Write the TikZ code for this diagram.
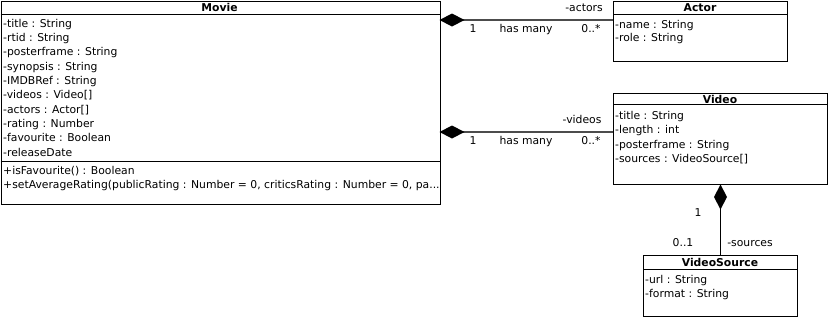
\documentclass[tikz,border=0pt]{standalone}
\usepackage{fontspec}
\setmainfont{DejaVu Sans}
\usetikzlibrary{arrows.meta}

\tikzset{
  classbox/.style={draw, line width=1pt, anchor=north west, inner sep=0pt},
  heading/.style={font=\fontsize{10.8}{12}\selectfont\bfseries, inner sep=0pt, text height=9pt, text depth=1pt},
  member/.style={anchor=west, font=\fontsize{10.8}{12}\selectfont, inner sep=0pt, text height=9pt, text depth=1pt},
  lbl/.style={font=\fontsize{10.8}{12}\selectfont, inner sep=0pt, text height=9pt, text depth=1pt},
  assoc/.style={line width=1.5pt, draw=black!70},
  owner/.style={{Diamond[length=25pt,width=13pt,fill=black,line width=0pt]}-},
}

\begin{document}
\begin{tikzpicture}[x=1pt,y=1pt]
  \useasboundingbox (0,0) rectangle (828,-317);

  % Movie
  \node[classbox, minimum width=439pt, minimum height=203pt] (movie) at (0.5,-1) {};
  \node[heading] (movietitle) at (219.5,-7) {Movie};
  \draw[line width=1pt] (0.5,-14.5) -- (439.5,-14.5);
  \draw[line width=1pt] (0.5,-161.5) -- (439.5,-161.5);
  \foreach \txt [count=\i] in {{-title : String}, {-rtid : String}, {-posterframe : String},
      {-synopsis : String}, {-IMDBRef : String}, {-videos : Video[]}, {-actors : Actor[]},
      {-rating : Number}, {-favourite : Boolean}, {-releaseDate}}
    \node[member] at (3,{-9-14.3*\i}) {\txt};
  \node[member] (fav) at (3,-170.7) {+isFavourite() : Boolean};
  \node[member] (avg) at (3,-184.5) {+setAverageRating(publicRating : Number = 0, criticsRating : Number = 0, pa...};

  % Actor
  \node[classbox, minimum width=174pt, minimum height=60pt] (actor) at (613,-1) {};
  \node[heading] (actortitle) at (700,-7) {Actor};
  \draw[line width=1pt] (613,-14) -- (787,-14);
  \node[member] at (615,-24) {-name : String};
  \node[member] at (615,-37.7) {-role : String};

  % Video
  \node[classbox, minimum width=214pt, minimum height=91pt] (video) at (613,-92.5) {};
  \node[heading] (videotitle) at (720,-99.3) {Video};
  \draw[line width=1pt] (613,-104.5) -- (827,-104.5);
  \node[member] at (615,-115) {-title : String};
  \node[member] at (615,-129) {-length : int};
  \node[member] at (615,-144) {-posterframe : String};
  \node[member] at (615,-158.3) {-sources : VideoSource[]};

  % VideoSource
  \node[classbox, minimum width=154pt, minimum height=61pt] (source) at (643,-255) {};
  \node[heading] (sourcetitle) at (720,-262.5) {VideoSource};
  \draw[line width=1pt] (643,-269) -- (797,-269);
  \node[member] at (645,-279) {-url : String};
  \node[member] at (645,-293) {-format : String};

  % associations
  \coordinate (movieA) at (439.5,-20);
  \coordinate (actorA) at (613,-20);
  \coordinate (movieV) at (439.5,-132);
  \coordinate (videoV) at (613,-132);

  \draw[assoc, owner] (movieA) -- (actorA);
  \node[lbl] at (584,-7.3) {-actors};
  \node[lbl] at (473,-28) {1};
  \node[lbl] at (526,-28) {has many};
  \node[lbl] at (591,-28) {0..*};

  \draw[assoc, owner] (movieV) -- (videoV);
  \node[lbl] at (582,-119) {-videos};
  \node[lbl] at (473,-140) {1};
  \node[lbl] at (526,-140) {has many};
  \node[lbl] at (591,-140) {0..*};

  \draw[line width=1pt, owner] (video.south -| source.north) -- (source.north);
  \node[lbl] at (698,-212) {1};
  \node[lbl] at (683,-242) {0..1};
  \node[lbl] at (750,-242) {-sources};
\end{tikzpicture}
\end{document}
